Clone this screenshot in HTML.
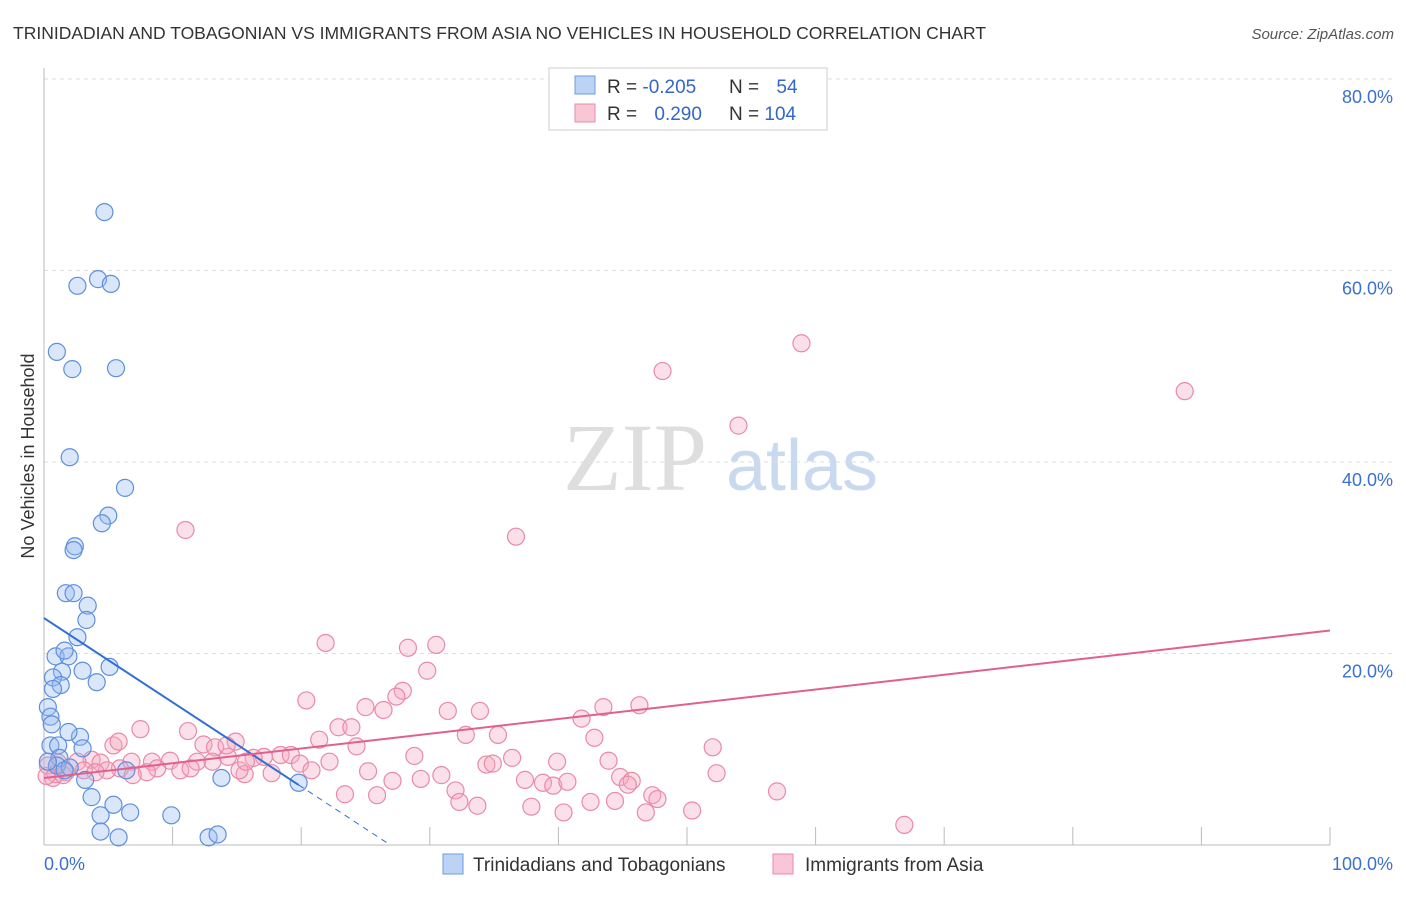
<!DOCTYPE html>
<html><head><meta charset="utf-8"><style>
body{margin:0;background:#fff;font-family:"Liberation Sans",sans-serif;}
</style></head><body>
<svg id="chart" width="1406" height="892" viewBox="0 0 1406 892" xmlns="http://www.w3.org/2000/svg" font-family="Liberation Sans, sans-serif">
<text x="13" y="39" font-size="17.5" fill="#333">TRINIDADIAN AND TOBAGONIAN VS IMMIGRANTS FROM ASIA NO VEHICLES IN HOUSEHOLD CORRELATION CHART</text>
<text x="1394" y="39" font-size="15" fill="#555" text-anchor="end" font-style="italic">Source: ZipAtlas.com</text>
<text transform="translate(34,456) rotate(-90)" font-size="18" fill="#333" text-anchor="middle">No Vehicles in Household</text>
<g>
<text x="635" y="490" font-size="96" font-family="Liberation Serif, serif" fill="#dedede" text-anchor="middle">ZIP</text>
<text x="802" y="490" font-size="72" fill="#c9daf0" text-anchor="middle">atlas</text>
</g>
<g id="grid"></g><g id="axes"></g><g id="marks"></g>
<g>
<rect x="549" y="68" width="278" height="62" fill="#fff" stroke="#ccc"/>
<rect x="575" y="76" width="20" height="18" fill="#bcd3f5" stroke="#6f9be0"/>
<rect x="575" y="104" width="20" height="18" fill="#f9c6d6" stroke="#e88aa8"/>
<text x="607" y="93" font-size="19" fill="#333">R = <tspan fill="#3366cc">-0.205</tspan></text>
<text x="729" y="93" font-size="19" fill="#333">N = <tspan fill="#3366cc" dx="12">54</tspan></text>
<text x="607" y="120" font-size="19" fill="#333">R = <tspan fill="#3366cc" dx="12">0.290</tspan></text>
<text x="729" y="120" font-size="19" fill="#333">N = <tspan fill="#3366cc">104</tspan></text>
</g>
<g>
<rect x="443" y="854" width="20" height="20" fill="#bcd3f5" stroke="#6f9be0"/>
<text x="473" y="871" font-size="19" fill="#333">Trinidadians and Tobagonians</text>
<rect x="773" y="854" width="20" height="20" fill="#f9c6d6" stroke="#e88aa8"/>
<text x="805" y="871" font-size="19" fill="#333">Immigrants from Asia</text>
</g>
</svg>
<script>
const yTicks=[20,40,60,80];
const yTickLabels=["20.0%","40.0%","60.0%","80.0%"];
const xTicks=[0,10,20,30,40,50,60,70,80,90,100];
const xEndLabels=["0.0%","100.0%"];
const blueX=[4.7,4.2,5.2,2.6,1.0,2.2,5.6,2.0,6.3,5.0,4.5,2.4,2.3,1.7,2.3,3.4,3.3,2.6,0.9,1.9,1.6,1.4,3.0,5.1,0.7,1.3,4.1,0.7,0.3,0.5,0.6,2.8,1.9,0.5,1.1,3.0,1.2,1.0,2.0,1.6,6.4,13.8,3.2,3.7,5.4,6.7,9.9,4.4,4.4,5.8,12.8,13.5,19.8,0.3];
const blueY=[66.1,59.1,58.6,58.4,51.5,49.7,49.8,40.5,37.3,34.4,33.6,31.2,30.8,26.3,26.3,25.0,23.5,21.7,19.7,19.7,20.3,18.1,18.2,18.6,17.5,16.7,17.0,16.3,14.4,13.4,12.6,11.3,11.8,10.4,10.4,10.1,9.1,8.3,8.1,7.8,7.8,7.0,6.8,5.0,4.2,3.4,3.1,3.1,1.4,0.8,0.8,1.1,6.5,8.7];
const pinkX=[11.0,58.9,48.1,88.7,54.0,36.7,21.9,30.5,28.3,29.8,27.9,20.4,27.4,25.0,26.4,31.4,33.9,43.5,46.3,41.8,22.9,23.9,11.2,7.5,32.8,35.3,21.4,42.8,24.3,14.9,5.4,5.8,12.4,13.3,52.0,28.8,18.4,19.2,17.1,16.3,14.3,8.4,9.8,11.9,3.7,6.8,4.4,2.6,1.1,0.3,36.4,34.4,34.9,43.9,39.9,22.2,19.9,20.8,17.7,25.2,30.9,15.6,10.6,8.8,8.0,5.9,4.9,3.1,1.7,0.9,0.7,1.5,0.2,4.0,6.9,11.4,15.2,52.3,37.4,27.1,29.3,32.0,44.8,45.7,38.8,39.6,40.7,45.4,47.3,47.7,57.0,23.4,25.9,32.3,33.7,37.9,40.4,42.5,44.4,46.8,50.4,66.9,15.7,13.1,14.2];
const pinkY=[32.9,52.4,49.5,47.4,43.8,32.2,21.1,20.9,20.6,18.2,16.1,15.1,15.5,14.4,14.1,14.0,14.0,14.4,14.6,13.2,12.3,12.3,11.9,12.1,11.5,11.5,11.0,11.2,10.3,10.8,10.4,10.8,10.5,10.2,10.2,9.3,9.4,9.4,9.2,9.1,9.2,8.7,8.8,8.7,8.9,8.7,8.6,8.7,8.6,8.3,9.1,8.4,8.5,8.8,8.7,8.7,8.5,7.8,7.5,7.7,7.3,7.4,7.8,8.0,7.6,8.0,7.8,7.8,7.6,7.4,7.0,7.3,7.2,7.6,7.3,8.0,7.8,7.5,6.8,6.7,6.9,5.7,7.1,6.7,6.5,6.2,6.6,6.3,5.2,4.8,5.6,5.3,5.2,4.5,4.1,4.0,3.4,4.5,4.6,3.4,3.6,2.1,8.7,8.7,10.4];
const blueTrend=[23.7,-0.88];  // intercept, slope
const pinkTrend=[7.0,0.154];
const X0=44,X1=1330,Y0=845,Y80=79;
const sx=v=>X0+(X1-X0)*v/100;
const sy=v=>Y0-(Y0-Y80)*v/80;
const NS="http://www.w3.org/2000/svg";
function mk(tag,attrs,parent){const e=document.createElementNS(NS,tag);for(const k in attrs)e.setAttribute(k,attrs[k]);parent.appendChild(e);return e;}
const grid=document.getElementById('grid'),axes=document.getElementById('axes'),marks=document.getElementById('marks');
yTicks.forEach((t,i)=>{
 const l=mk('line',{x1:X0,x2:1394,y1:sy(t),y2:sy(t),stroke:'#ddd','stroke-dasharray':'4,4'},grid);
 
 
 const tx=mk('text',{x:1393,y:sy(t)+24,'font-size':18,fill:'#3c6fd1','text-anchor':'end'},axes);
 tx.textContent=yTickLabels[i];
 
 
});
const ax=mk('line',{x1:X0,x2:X1,y1:Y0,y2:Y0,stroke:'#bbb'},axes);


const ay=mk('line',{x1:X0,x2:X0,y1:68,y2:Y0,stroke:'#bbb'},axes);


xTicks.forEach(t=>{
 const l=mk('line',{x1:sx(t),x2:sx(t),y1:Y0,y2:Y0-18,stroke:'#bbb'},axes);
 
 
});
const xl0=mk('text',{x:44,y:870,'font-size':18,fill:'#3c6fd1'},axes);xl0.textContent=xEndLabels[0];


const xl1=mk('text',{x:1393,y:870,'font-size':18,fill:'#3c6fd1','text-anchor':'end'},axes);xl1.textContent=xEndLabels[1];


function dots(xs,ys,fill,stroke,name){xs.forEach((x,i)=>{
 const c=mk('circle',{cx:sx(x),cy:sy(ys[i]),r:8.5,fill:fill,stroke:stroke,'stroke-width':1.2},marks);
 
 
});}
dots(pinkX,pinkY,'rgba(245,165,192,0.35)','#e88aa8','point-immigrants-asia');
dots(blueX,blueY,'rgba(150,185,240,0.35)','#5f8fdc','point-trinidadian');
const bEnd=19.8, bZero=-blueTrend[0]/blueTrend[1];
const bl=mk('line',{x1:sx(0),y1:sy(blueTrend[0]),x2:sx(bEnd),y2:sy(blueTrend[0]+blueTrend[1]*bEnd),stroke:'#2f6fd6','stroke-width':2},marks);


const bd=mk('line',{x1:sx(bEnd),y1:sy(blueTrend[0]+blueTrend[1]*bEnd),x2:sx(bZero),y2:sy(0),stroke:'#2f6fd6','stroke-width':1,'stroke-dasharray':'6,5'},marks);


const pl=mk('line',{x1:sx(0),y1:sy(pinkTrend[0]),x2:sx(100),y2:sy(pinkTrend[0]+pinkTrend[1]*100),stroke:'#e0608e','stroke-width':2},marks);


</script>
</body></html>
